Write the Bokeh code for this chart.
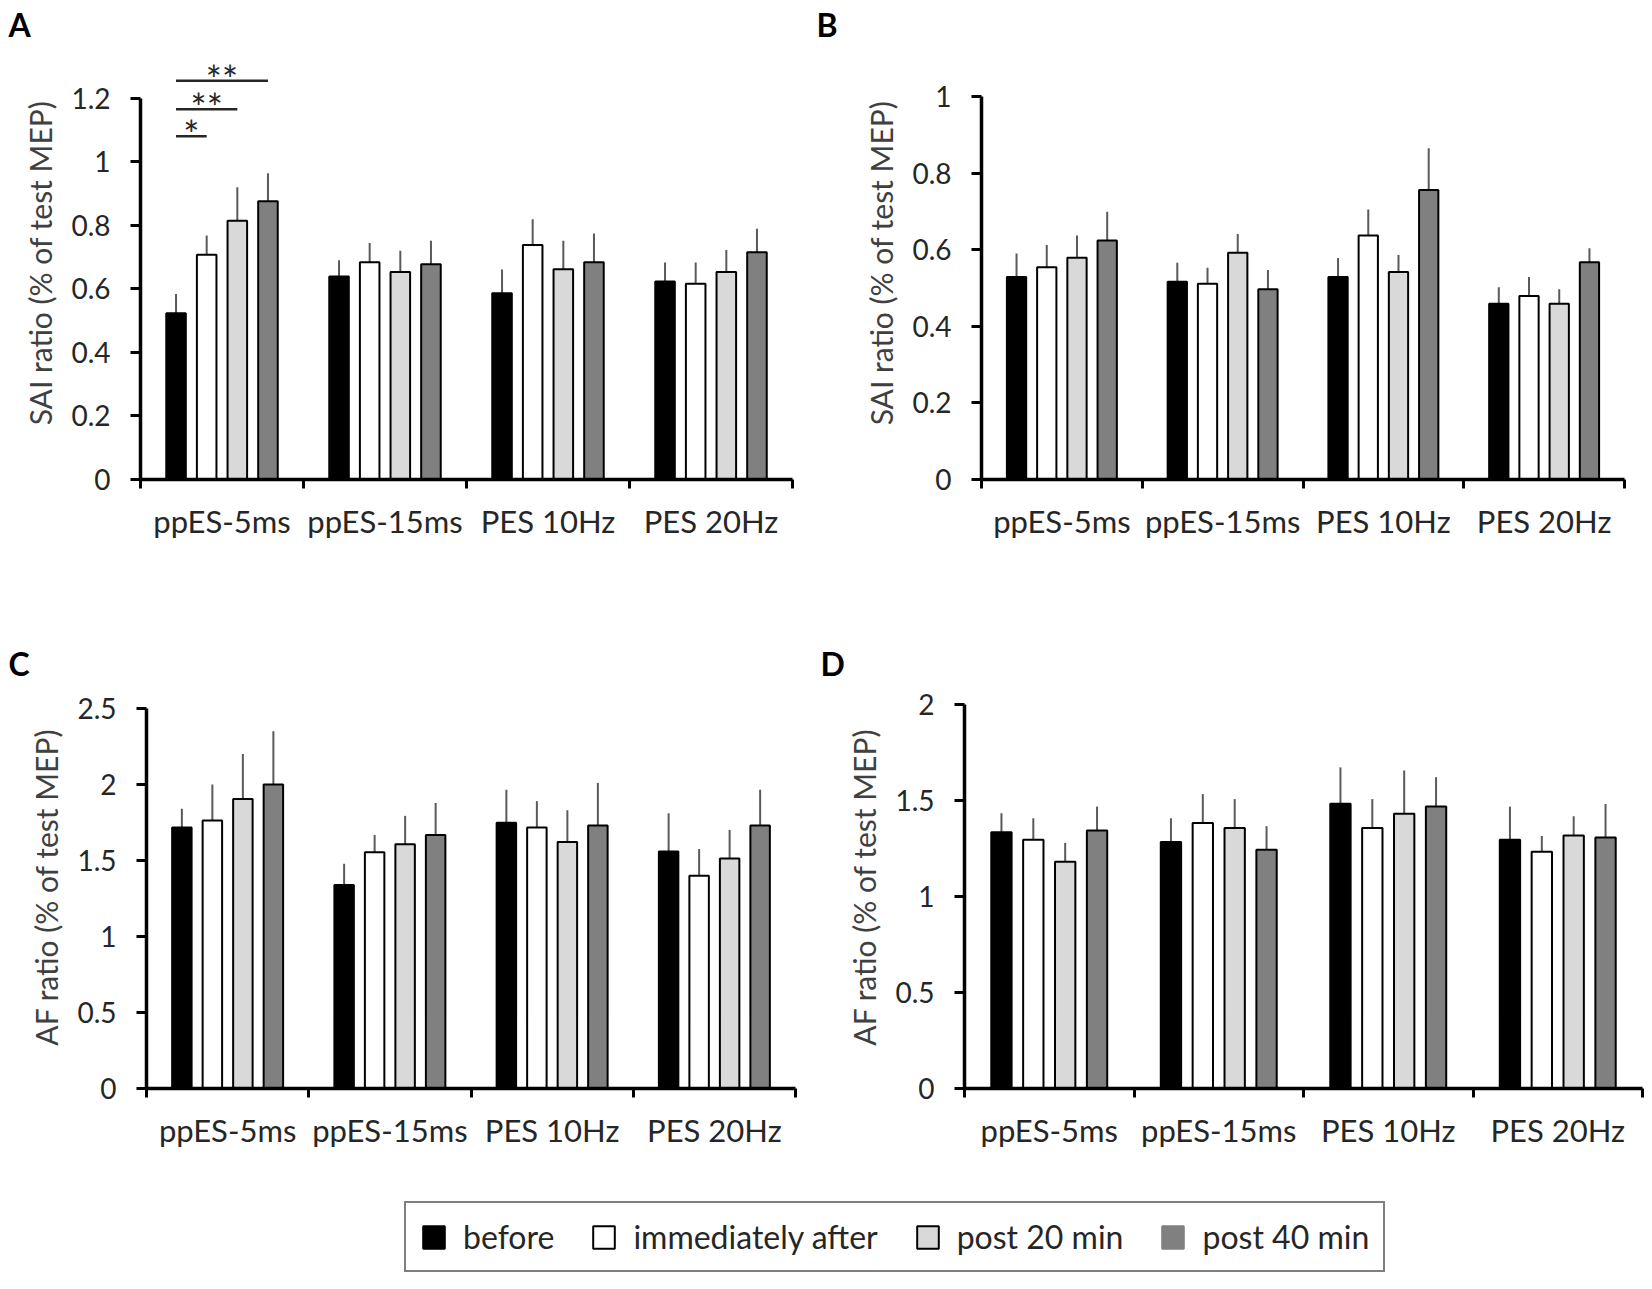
import numpy as np
from bokeh.plotting import figure
from bokeh.layouts import column, row
from bokeh.models import FixedTicker, Legend, LegendItem, Range1d, ColumnDataSource
from bokeh.core.properties import value
from bokeh.embed import file_html
from bokeh.resources import INLINE

# ---------------- data ----------------
categories = ["ppES-5ms", "ppES-15ms", "PES 10Hz", "PES 20Hz"]
series = ["before", "immediately after", "post 20 min", "post 40 min"]
colors = ["#000000", "#ffffff", "#d9d9d9", "#808080"]

# Panel A: SAI ratio
A_before = [0.523, 0.639, 0.586, 0.623]
A_immediately = [0.707, 0.684, 0.738, 0.616]
A_post20 = [0.814, 0.653, 0.662, 0.653]
A_post40 = [0.876, 0.677, 0.684, 0.715]
A_err_before = [0.061, 0.051, 0.075, 0.060]
A_err_immediately = [0.061, 0.060, 0.081, 0.067]
A_err_post20 = [0.106, 0.067, 0.089, 0.069]
A_err_post40 = [0.088, 0.074, 0.090, 0.074]
A_yticks = [0, 0.2, 0.4, 0.6, 0.8, 1.0, 1.2]

# Panel B: SAI ratio
B_before = [0.529, 0.516, 0.529, 0.459]
B_immediately = [0.554, 0.511, 0.637, 0.479]
B_post20 = [0.579, 0.592, 0.542, 0.459]
B_post40 = [0.624, 0.497, 0.756, 0.567]
B_err_before = [0.061, 0.050, 0.049, 0.043]
B_err_immediately = [0.058, 0.042, 0.068, 0.050]
B_err_post20 = [0.058, 0.049, 0.044, 0.038]
B_err_post40 = [0.075, 0.050, 0.109, 0.037]
B_yticks = [0, 0.2, 0.4, 0.6, 0.8, 1.0]

# Panel C: AF ratio
C_before = [1.716, 1.338, 1.748, 1.558]
C_immediately = [1.763, 1.554, 1.716, 1.400]
C_post20 = [1.904, 1.606, 1.622, 1.512]
C_post40 = [2.000, 1.667, 1.730, 1.730]
C_err_before = [0.124, 0.140, 0.217, 0.252]
C_err_immediately = [0.237, 0.113, 0.174, 0.175]
C_err_post20 = [0.296, 0.187, 0.208, 0.188]
C_err_post40 = [0.350, 0.211, 0.280, 0.235]
C_yticks = [0, 0.5, 1.0, 1.5, 2.0, 2.5]

# Panel D: AF ratio
D_before = [1.334, 1.283, 1.483, 1.295]
D_immediately = [1.295, 1.383, 1.357, 1.233]
D_post20 = [1.181, 1.357, 1.431, 1.317]
D_post40 = [1.343, 1.243, 1.469, 1.307]
D_err_before = [0.099, 0.124, 0.189, 0.173]
D_err_immediately = [0.112, 0.150, 0.150, 0.082]
D_err_post20 = [0.098, 0.150, 0.225, 0.100]
D_err_post40 = [0.125, 0.123, 0.152, 0.174]
D_yticks = [0, 0.5, 1.0, 1.5, 2.0]

# significance comparisons in panel A (category, series i, series j, text)
A_sig = [(0, 0, 1, "*"), (0, 0, 2, "**"), (0, 0, 3, "**")]
A_sig_levels = [1.08, 1.165, 1.255]

# ---------------- styling ----------------
FONT = "Lato"
TICK_COLOR = "#262626"
LABEL_COLOR = "#404040"
BAR_OFFSETS = [-0.282, -0.094, 0.094, 0.282]
BAR_WIDTH = 0.12


def bar_x(cat, s):
    return cat + 0.5 + BAR_OFFSETS[s]


def make_panel(letter, letter_offset, ylabel, means, errs, yticks, ytop,
               width, height, bl, br, bt, bb):
    p = figure(width=width, height=height, x_range=Range1d(0, 4),
               y_range=Range1d(0, ytop), toolbar_location=None,
               output_backend="svg", min_border_left=bl, min_border_right=br,
               min_border_top=bt, min_border_bottom=bb)
    p.xgrid.visible = False
    p.ygrid.visible = False
    p.outline_line_color = None
    p.background_fill_color = "white"

    p.title.text = letter
    p.title.align = "left"
    p.title.offset = letter_offset
    p.title.standoff = 5
    p.title.text_font = FONT
    p.title.text_font_size = "32px"
    p.title.text_font_style = "bold"
    p.title.text_color = "black"

    for s in range(4):
        xs = [bar_x(c, s) for c in range(4)]
        tops = means[s]
        etop = [m + e for m, e in zip(means[s], errs[s])]
        src = ColumnDataSource(dict(x=xs, top=tops, etop=etop))
        p.segment(x0="x", y0="top", x1="x", y1="etop", source=src,
                  line_color="#5a5a5a", line_width=2)
        p.vbar(x="x", top="top", bottom=0, width=BAR_WIDTH, source=src,
               fill_color=colors[s], line_color="black", line_width=2)

    centers = [c + 0.5 for c in range(4)]
    xa = p.xaxis[0]
    xa.ticker = FixedTicker(ticks=centers, minor_ticks=[0, 1, 2, 3, 4])
    xa.major_label_overrides = {c: lab for c, lab in zip(centers, categories)}
    xa.major_tick_line_color = None
    xa.major_tick_out = 9
    xa.major_tick_in = 0
    xa.minor_tick_line_color = "black"
    xa.minor_tick_line_width = 3
    xa.minor_tick_out = 9
    xa.minor_tick_in = 0
    xa.axis_line_width = 3.5
    xa.axis_line_color = "black"
    xa.major_label_text_font = FONT
    xa.major_label_text_font_size = "31px"
    xa.major_label_text_color = TICK_COLOR
    xa.major_label_standoff = 13

    ya = p.yaxis[0]
    ya.ticker = FixedTicker(ticks=yticks, minor_ticks=[])
    ya.major_label_overrides = {t: f"{t:g}" for t in yticks}
    ya.bounds = (0, yticks[-1])
    ya.major_tick_out = 10
    ya.major_tick_in = 0
    ya.major_tick_line_width = 3
    ya.minor_tick_line_color = None
    ya.axis_line_width = 3.5
    ya.axis_line_color = "black"
    ya.major_label_text_font = FONT
    ya.major_label_text_font_size = "28px"
    ya.major_label_text_color = TICK_COLOR
    ya.major_label_standoff = 20
    ya.axis_label = ylabel
    ya.axis_label_text_font = FONT
    ya.axis_label_text_font_size = "30px"
    ya.axis_label_text_font_style = "normal"
    ya.axis_label_text_color = LABEL_COLOR
    ya.axis_label_standoff = 10
    return p


# top row: frame top 44, bottom 479; bottom row: frame top 683, bottom 1088
pA = make_panel("A", -132, "SAI ratio (% of test MEP)",
                [A_before, A_immediately, A_post20, A_post40],
                [A_err_before, A_err_immediately, A_err_post20, A_err_post40],
                A_yticks, 1.3626, 802, 639, 140, 10, 44, 160)

for (cat, i, j, txt), lev in zip(A_sig, A_sig_levels):
    x0 = bar_x(cat, i)
    x1 = bar_x(cat, j)
    pA.segment(x0=[x0], y0=[lev], x1=[x1], y1=[lev], line_color="#262626",
               line_width=2.5)
    pA.text(x=[(x0 + x1) / 2], y=[lev], text=[txt], text_font=value(FONT),
            text_font_size="38px", text_align="center",
            text_baseline="alphabetic", y_offset=-2, text_color="#262626")

pB = make_panel("B", -165, "SAI ratio (% of test MEP)",
                [B_before, B_immediately, B_post20, B_post40],
                [B_err_before, B_err_immediately, B_err_post20, B_err_post40],
                B_yticks, 1.1305, 846, 639, 179, 24, 44, 160)

pC = make_panel("C", -138, "AF ratio (% of test MEP)",
                [C_before, C_immediately, C_post20, C_post40],
                [C_err_before, C_err_immediately, C_err_post20, C_err_post40],
                C_yticks, 2.6505, 805, 521, 146, 10, 44, 72)

pD = make_panel("D", -144, "AF ratio (% of test MEP)",
                [D_before, D_immediately, D_post20, D_post40],
                [D_err_before, D_err_immediately, D_err_post20, D_err_post40],
                D_yticks, 2.0984, 843, 521, 159, 6, 44, 72)

# legend figure (swatch renderers carry no drawable data)
leg = figure(width=1648, height=120, x_range=Range1d(0, 1), y_range=Range1d(0, 1),
             toolbar_location=None, output_backend="svg", min_border=0,
             x_axis_location=None, y_axis_location=None)
leg.xgrid.visible = False
leg.ygrid.visible = False
leg.outline_line_color = None
items = []
swatch_lines = ["black", "black", "black", "#808080"]
for s, c, lc in zip(series, colors, swatch_lines):
    r = leg.vbar(x=np.array([0.5]), top=np.array([np.nan]), bottom=np.array([np.nan]),
                 width=0.1, fill_color=c, line_color=lc, line_width=2)
    items.append(LegendItem(label=s, renderers=[r]))
legend = Legend(items=items, orientation="horizontal", location=(404, 8),
                border_line_color="black", border_line_width=2.5,
                label_text_font=FONT, label_text_font_size="32px",
                label_text_color=TICK_COLOR, glyph_width=27, glyph_height=28,
                label_standoff=16, spacing=36, padding=14, margin=0,
                background_fill_color="white", background_fill_alpha=1.0)
leg.add_layout(legend)

layout = column(row(pA, pB, spacing=0), row(pC, pD, spacing=0), leg, spacing=0)

open("out.html", "w").write(file_html(layout, INLINE))
